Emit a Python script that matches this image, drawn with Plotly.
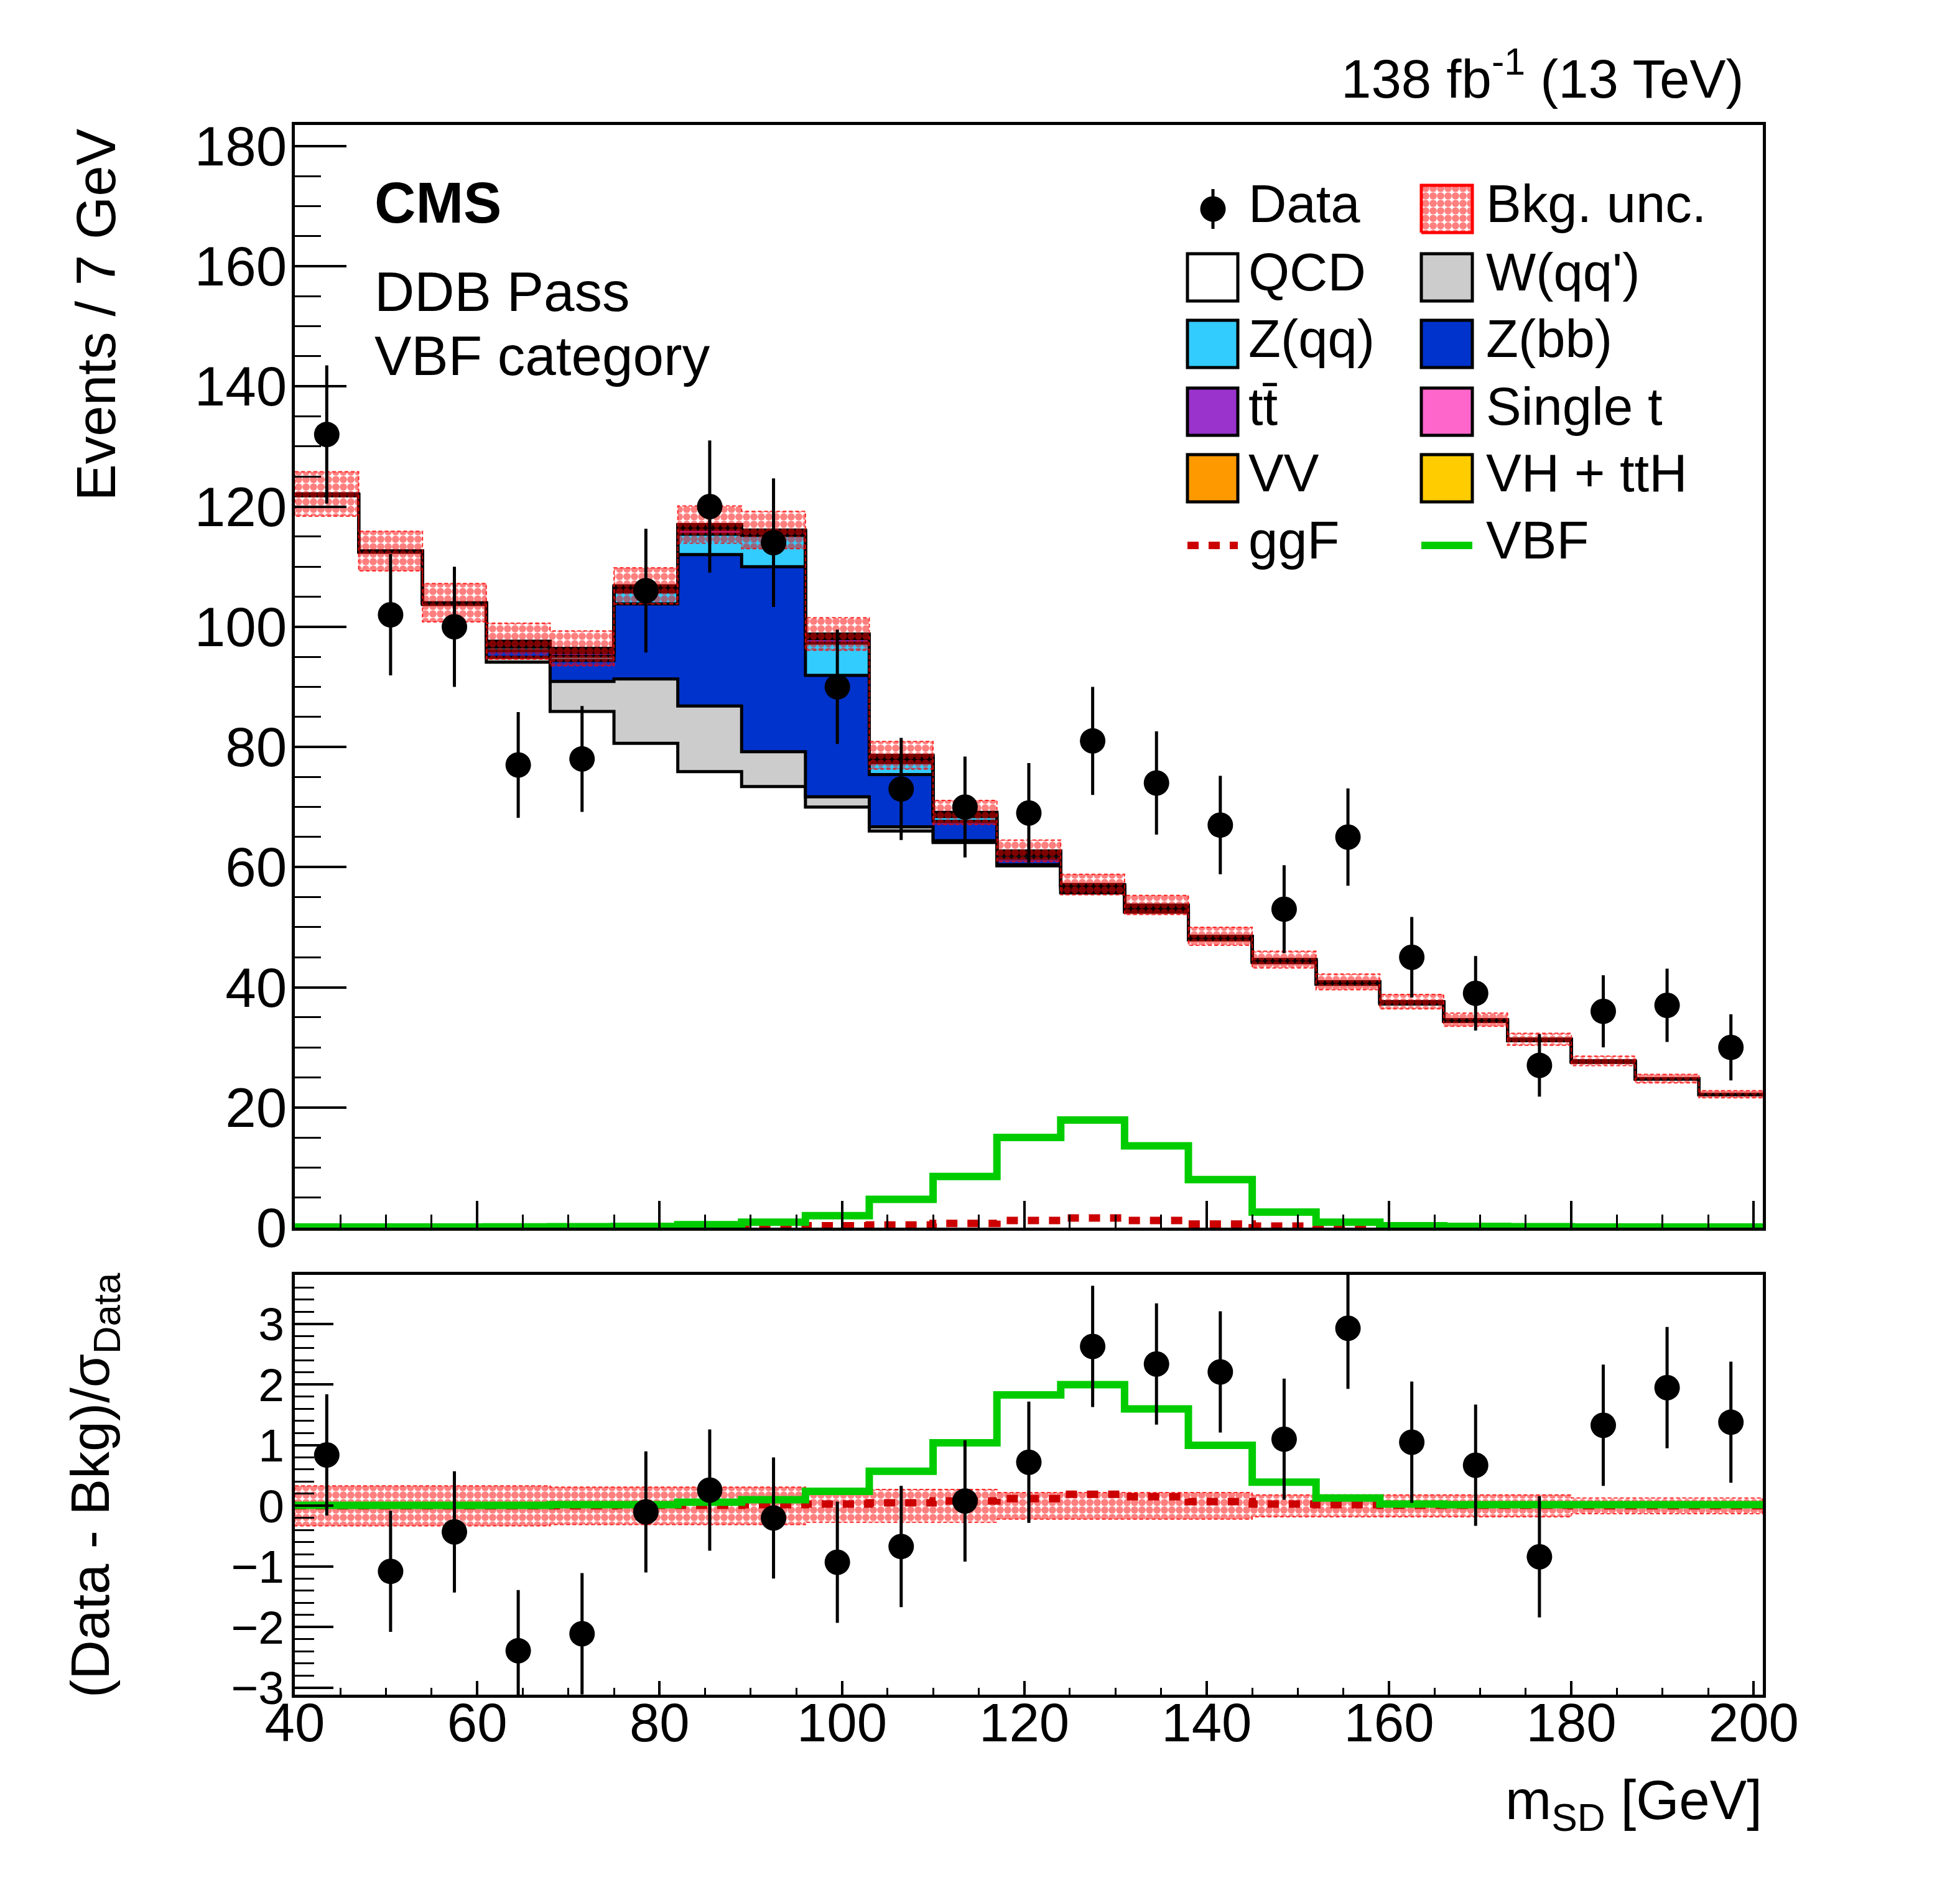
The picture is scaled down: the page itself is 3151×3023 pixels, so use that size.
import plotly.graph_objects as go

# ---------------- data ----------------
bin_edges = [40, 47, 54, 61, 68, 75, 82, 89, 96, 103, 110, 117, 124, 131, 138,
             145, 152, 159, 166, 173, 180, 187, 194, 201]
bin_centers = [43.5, 50.5, 57.5, 64.5, 71.5, 78.5, 85.5, 92.5, 99.5, 106.5, 113.5,
               120.5, 127.5, 134.5, 141.5, 148.5, 155.5, 162.5, 169.5, 176.5,
               183.5, 190.5, 197.5]

data_counts = [132, 102, 100, 77, 78, 106, 120, 114, 90, 73, 70, 69, 81, 74, 67,
               53, 65, 45, 39, 27, 36, 37, 30]
data_err = [11.5, 10.1, 10.0, 8.8, 8.8, 10.3, 11.0, 10.7, 9.5, 8.5, 8.4, 8.3, 9.0,
            8.6, 8.2, 7.3, 8.1, 6.7, 6.2, 5.2, 6.0, 6.1, 5.5]

qcd = [121.8, 112.4, 103.7, 94.1, 85.9, 80.6, 75.9, 73.4, 70.0, 66.0, 64.1, 60.2,
       55.7, 52.5, 47.9, 44.1, 40.5, 37.2, 34.3, 31.1, 27.5, 24.7, 22.1]
wqq = [0.2, 0.1, 0.1, 0.8, 5.0, 10.7, 10.9, 5.8, 1.7, 0.7, 0.3, 0.2, 0.1, 0.1, 0.1,
       0.1, 0.1, 0.1, 0.05, 0.05, 0.05, 0.05, 0.05]
zbb = [0.0, 0.0, 0.1, 1.1, 3.5, 12.5, 25.2, 30.8, 20.2, 8.7, 3.2, 1.1, 0.5, 0.3,
       0.2, 0.1, 0.1, 0.1, 0.05, 0.05, 0.05, 0.05, 0.0]
zqq = [0.0, 0.0, 0.0, 0.6, 0.7, 2.0, 3.4, 5.2, 5.4, 2.0, 0.8, 0.5, 0.3, 0.2, 0.1,
       0.1, 0.05, 0.05, 0.05, 0.0, 0.0, 0.0, 0.0]
ttbar = [0.05, 0.05, 0.05, 0.5, 0.6, 0.5, 0.8, 0.5, 0.7, 0.5, 0.3, 0.3, 0.2, 0.2,
         0.1, 0.1, 0.05, 0.05, 0.05, 0.05, 0.05, 0.0, 0.0]
singlet = [0.02, 0.02, 0.02, 0.2, 0.2, 0.2, 0.3, 0.2, 0.3, 0.2, 0.1, 0.1, 0.1, 0.1,
           0.05, 0.05, 0.05, 0.05, 0.05, 0.05, 0.05, 0.0, 0.0]
vv = [0.03, 0.03, 0.03, 0.2, 0.3, 0.2, 0.3, 0.1, 0.3, 0.3, 0.2, 0.2, 0.1, 0.2,
      0.05, 0.05, 0.05, 0.05, 0.05, 0.05, 0.05, 0.0, 0.05]
vh_tth = [0.0, 0.0, 0.0, 0.1, 0.2, 0.1, 0.2, 0.1, 0.2, 0.2, 0.1, 0.1, 0.1, 0.1,
          0.0, 0.0, 0.0, 0.0, 0.0, 0.0, 0.0, 0.0, 0.0]
bkg_unc = [3.7, 3.3, 3.2, 3.0, 2.9, 3.0, 3.1, 3.1, 2.7, 2.3, 2.0, 1.8, 1.7, 1.6,
           1.5, 1.4, 1.3, 1.2, 1.1, 1.0, 0.8, 0.7, 0.6]

ggf = [0.0, 0.0, 0.0, 0.0, 0.02, 0.05, 0.1, 0.15, 0.3, 0.45, 0.7, 1.2, 1.6, 1.2,
       0.6, 0.25, 0.12, 0.08, 0.05, 0.03, 0.02, 0.02, 0.01]
vbf = [0.1, 0.1, 0.1, 0.12, 0.15, 0.2, 0.5, 0.9, 2.0, 4.7, 8.5, 15.0, 17.9, 13.6,
       8.0, 2.6, 0.9, 0.3, 0.2, 0.15, 0.1, 0.1, 0.1]

# ratio panel: (Data - Bkg)/sigma_Data
pull = [0.84, -1.08, -0.43, -2.39, -2.11, -0.10, 0.26, -0.20, -0.93, -0.67, 0.08,
        0.72, 2.63, 2.34, 2.21, 1.10, 2.93, 1.05, 0.67, -0.84, 1.33, 1.95, 1.38]
pull_err = [1.0] * 23
pull_unc = [0.33, 0.33, 0.33, 0.33, 0.31, 0.31, 0.31, 0.31, 0.27, 0.27, 0.27, 0.22,
            0.22, 0.22, 0.22, 0.18, 0.18, 0.18, 0.18, 0.18, 0.13, 0.13, 0.13]
vbf_pull = [0.01, 0.01, 0.01, 0.01, 0.02, 0.02, 0.06, 0.10, 0.24, 0.57, 1.04, 1.83,
            2.0, 1.6, 1.0, 0.39, 0.13, 0.03, 0.02, 0.02, 0.02, 0.02, 0.02]
ggf_pull = [0.0, 0.0, 0.0, 0.0, 0.0, 0.01, 0.01, 0.02, 0.03, 0.05, 0.08, 0.12,
            0.19, 0.15, 0.07, 0.03, 0.02, 0.01, 0.01, 0.01, 0.0, 0.0, 0.0]

components = [
    ("QCD", qcd, "#ffffff"),
    ("W(qq')", wqq, "#cccccc"),
    ("Z(bb)", zbb, "#0033cc"),
    ("Z(qq)", zqq, "#33ccff"),
    ("tt", ttbar, "#9933cc"),
    ("Single t", singlet, "#ff66cc"),
    ("VV", vv, "#ff9900"),
    ("VH + ttH", vh_tth, "#ffcc00"),
]

FONT = "Liberation Sans, Arial, Helvetica, sans-serif"
W, H = 3151, 3023
L, R, T, B = 474, 2834, 201, 2725

BAND_PATTERN = dict(shape=".", fgcolor="#ff0000", bgcolor="rgba(0,0,0,0)",
                    size=12, solidity=0.75)


def PX(px):
    return (px - L) / (R - L)


def PY(py):
    return (B - py) / (B - T)


def step(vals):
    return list(vals) + [vals[-1]]


def band(center, half):
    xs, ys = [], []
    n = len(center)
    for i in range(n):
        xs += [bin_edges[i], bin_edges[i + 1]]
        ys += [center[i] + half[i]] * 2
    for i in reversed(range(n)):
        xs += [bin_edges[i + 1], bin_edges[i]]
        ys += [center[i] - half[i]] * 2
    xs.append(xs[0])
    ys.append(ys[0])
    return xs, ys


fig = go.Figure()

# ---------------- stacked backgrounds (top panel) ----------------
cum = [0.0] * 23
for k, (name, vals, col) in enumerate(components):
    cum = [c + v for c, v in zip(cum, vals)]
    fig.add_trace(go.Scatter(
        x=bin_edges, y=step(cum), mode="lines", line_shape="hv",
        line=dict(color="black", width=5),
        fill="tozeroy" if k == 0 else "tonexty", fillcolor=col,
        xaxis="x", yaxis="y", showlegend=False, hoverinfo="skip"))
total_bkg = cum

bx, by = band(total_bkg, bkg_unc)
fig.add_trace(go.Scatter(
    x=bx, y=by, mode="lines", line=dict(color="rgba(255,0,0,0.8)", width=2, dash="6px,4px"),
    fill="toself", fillcolor="rgba(0,0,0,0)", fillpattern=BAND_PATTERN,
    xaxis="x", yaxis="y", showlegend=False, hoverinfo="skip"))

fig.add_trace(go.Scatter(
    x=bin_edges, y=step(ggf), mode="lines", line_shape="hv",
    line=dict(color="#cc0000", width=12, dash="18px,16px"),
    xaxis="x", yaxis="y", showlegend=False, hoverinfo="skip"))
fig.add_trace(go.Scatter(
    x=bin_edges, y=step(vbf), mode="lines", line_shape="hv",
    line=dict(color="#00cc00", width=12),
    xaxis="x", yaxis="y", showlegend=False, hoverinfo="skip"))

fig.add_trace(go.Scatter(
    x=bin_centers, y=data_counts, mode="markers",
    marker=dict(color="black", size=41),
    error_y=dict(type="data", array=data_err, color="black", thickness=5, width=0),
    xaxis="x", yaxis="y", showlegend=False))

# ---------------- ratio panel ----------------
rx, ry = band([0.0] * 23, pull_unc)
fig.add_trace(go.Scatter(
    x=rx, y=ry, mode="lines", line=dict(color="rgba(255,0,0,0.8)", width=2, dash="6px,4px"),
    fill="toself", fillcolor="rgba(0,0,0,0)", fillpattern=BAND_PATTERN,
    xaxis="x2", yaxis="y2", showlegend=False, hoverinfo="skip"))
fig.add_trace(go.Scatter(
    x=bin_edges, y=step(ggf_pull), mode="lines", line_shape="hv",
    line=dict(color="#cc0000", width=12, dash="18px,16px"),
    xaxis="x2", yaxis="y2", showlegend=False, hoverinfo="skip"))
fig.add_trace(go.Scatter(
    x=bin_edges, y=step(vbf_pull), mode="lines", line_shape="hv",
    line=dict(color="#00cc00", width=12),
    xaxis="x2", yaxis="y2", showlegend=False, hoverinfo="skip"))
fig.add_trace(go.Scatter(
    x=bin_centers, y=pull, mode="markers",
    marker=dict(color="black", size=41),
    error_y=dict(type="data", array=pull_err, color="black", thickness=5, width=0),
    xaxis="x2", yaxis="y2", showlegend=False))

# ---------------- manual legend ----------------
rows = [336, 446, 553, 662, 769, 877]
TXT_DY = -9
c1_box, c1_txt = (1909, 1990), 2006
c2_box, c2_txt = (2285, 2367), 2388
legend_boxes = [
    (1, 1, "QCD", "#ffffff"), (1, 2, "W(qq')", "#cccccc"),
    (2, 1, "Z(qq)", "#33ccff"), (2, 2, "Z(bb)", "#0033cc"),
    (3, 1, "t\u0074\u0304", "#9933cc"), (3, 2, "Single t", "#ff66cc"),
    (4, 1, "VV", "#ff9900"), (4, 2, "VH + ttH", "#ffcc00"),
]
shapes = []
annotations = []
LEG_FS = 85


def leg_text(col, row, text):
    annotations.append(dict(
        x=PX(c1_txt if col == 1 else c2_txt), y=PY(rows[row] + TXT_DY), xref="paper",
        yref="paper", xanchor="left", yanchor="middle", text=text,
        showarrow=False, borderpad=0,
        font=dict(family=FONT, size=LEG_FS, color="black")))


for row, col, text, color in legend_boxes:
    bxp = c1_box if col == 1 else c2_box
    shapes.append(dict(type="rect", xref="paper", yref="paper",
                       x0=PX(bxp[0]), x1=PX(bxp[1]),
                       y0=PY(rows[row] + 38), y1=PY(rows[row] - 38),
                       fillcolor=color, line=dict(color="black", width=5)))
    leg_text(col, row, text)

# Bkg. unc. box (pattern) on an overlay axis in paper units
ux = [PX(c2_box[0]), PX(c2_box[1]), PX(c2_box[1]), PX(c2_box[0]), PX(c2_box[0])]
uy = [PY(rows[0] + 38), PY(rows[0] + 38), PY(rows[0] - 38), PY(rows[0] - 38), PY(rows[0] + 38)]
fig.add_trace(go.Scatter(
    x=ux, y=uy, mode="lines", line=dict(color="#ff0000", width=5),
    fill="toself", fillcolor="rgba(255,255,255,1)",
    fillpattern=dict(shape=".", fgcolor="#ff0000", bgcolor="#ffffff",
                     size=12, solidity=0.75),
    xaxis="x3", yaxis="y3", showlegend=False, hoverinfo="skip"))
leg_text(2, 0, "Bkg. unc.")

# Data legend symbol
fig.add_trace(go.Scatter(
    x=[PX(1950)], y=[PY(rows[0])], mode="markers",
    marker=dict(color="black", size=41),
    xaxis="x3", yaxis="y3", showlegend=False, hoverinfo="skip"))
shapes.append(dict(type="line", xref="paper", yref="paper",
                   x0=PX(1950), x1=PX(1950), y0=PY(rows[0] - 32), y1=PY(rows[0] + 32),
                   line=dict(color="black", width=5)))
leg_text(1, 0, "Data")

# ggF / VBF legend lines
fig.add_trace(go.Scatter(
    x=[PX(c1_box[0]), PX(c1_box[1])], y=[PY(rows[5]), PY(rows[5])], mode="lines",
    line=dict(color="#cc0000", width=12, dash="18px,16px"),
    xaxis="x3", yaxis="y3", showlegend=False, hoverinfo="skip"))
fig.add_trace(go.Scatter(
    x=[PX(c2_box[0]), PX(c2_box[1])], y=[PY(rows[5]), PY(rows[5])], mode="lines",
    line=dict(color="#00cc00", width=12),
    xaxis="x3", yaxis="y3", showlegend=False, hoverinfo="skip"))
leg_text(1, 5, "ggF")
leg_text(2, 5, "VBF")

# ---------------- texts ----------------
annotations += [
    dict(x=PX(601), y=PY(326), xref="paper", yref="paper", xanchor="left",
         yanchor="middle", text="<b>CMS</b>", showarrow=False, borderpad=0,
         font=dict(family=FONT, size=92, color="black")),
    dict(x=PX(601), y=PY(469), xref="paper", yref="paper", xanchor="left",
         yanchor="middle", text="DDB Pass", showarrow=False, borderpad=0,
         font=dict(family=FONT, size=89, color="black")),
    dict(x=PX(601), y=PY(572), xref="paper", yref="paper", xanchor="left",
         yanchor="middle", text="VBF category", showarrow=False, borderpad=0,
         font=dict(family=FONT, size=89, color="black")),
    dict(x=PX(2804), y=PY(120), xref="paper", yref="paper", xanchor="right",
         yanchor="middle", text="138 fb<sup>-1</sup> (13 TeV)", showarrow=False,
         borderpad=0, font=dict(family=FONT, size=87, color="black")),
    dict(x=PX(153), y=PY(206), xref="paper", yref="paper", xanchor="center",
         yanchor="top", text="Events / 7 GeV", textangle=-90, showarrow=False,
         borderpad=0, font=dict(family=FONT, size=89, color="black")),
    dict(x=PX(150), y=PY(2388), xref="paper", yref="paper", xanchor="center",
         yanchor="middle", text="(Data - Bkg)/\u03c3<sub>Data</sub>", textangle=-90,
         showarrow=False, borderpad=0,
         font=dict(family=FONT, size=88, color="black")),
    dict(x=PX(2834), y=PY(2900), xref="paper", yref="paper", xanchor="right",
         yanchor="middle", text="m<sub>SD</sub> [GeV]", showarrow=False,
         borderpad=0, font=dict(family=FONT, size=89, color="black")),
]

axis_common = dict(showgrid=False, zeroline=False, showline=True, linecolor="black",
                   linewidth=5, mirror=True, ticks="inside", tickcolor="black")

fig.update_layout(
    width=W, height=H, autosize=False,
    margin=dict(l=L, r=W - R, t=T, b=H - B, pad=0),
    paper_bgcolor="white", plot_bgcolor="rgba(0,0,0,0)",
    font=dict(family=FONT, color="black"),
    showlegend=False,
    shapes=shapes, annotations=annotations,
    xaxis=dict(domain=[0, 1], range=[40, 201], anchor="y", showticklabels=False,
               tick0=40, dtick=20, ticklen=43, tickwidth=4,
               minor=dict(ticks="inside", dtick=5, ticklen=21, tickwidth=3,
                          tickcolor="black"),
               **axis_common),
    yaxis=dict(domain=[(B - 1974) / (B - T), 1], range=[0, 183.5], anchor="x",
               tick0=0, dtick=20, ticklen=83, tickwidth=4, ticklabelstandoff=-10,
               minor=dict(ticks="inside", dtick=5, ticklen=42, tickwidth=3,
                          tickcolor="black"),
               tickfont=dict(family=FONT, size=89), **axis_common),
    xaxis2=dict(domain=[0, 1], range=[40, 201], anchor="y2", matches="x",
                tick0=40, dtick=20, ticklen=22, tickwidth=4, ticklabelstandoff=-34,
                minor=dict(ticks="inside", dtick=5, ticklen=11, tickwidth=3,
                           tickcolor="black"),
                tickfont=dict(family=FONT, size=87), **axis_common),
    yaxis2=dict(domain=[0, (B - 2050) / (B - T)], range=[-3.115, 3.81], anchor="x2",
                tick0=0, dtick=1, ticklen=62, tickwidth=4, ticklabelstandoff=-3,
                minor=dict(ticks="inside", dtick=0.2, ticklen=31, tickwidth=3,
                           tickcolor="black"),
                tickfont=dict(family=FONT, size=75), **axis_common),
    xaxis3=dict(domain=[0, 1], range=[0, 1], anchor="y3", visible=False,
                fixedrange=True),
    yaxis3=dict(domain=[0, 1], range=[0, 1], anchor="x3", visible=False,
                fixedrange=True),
)

fig.write_html("out.html")
